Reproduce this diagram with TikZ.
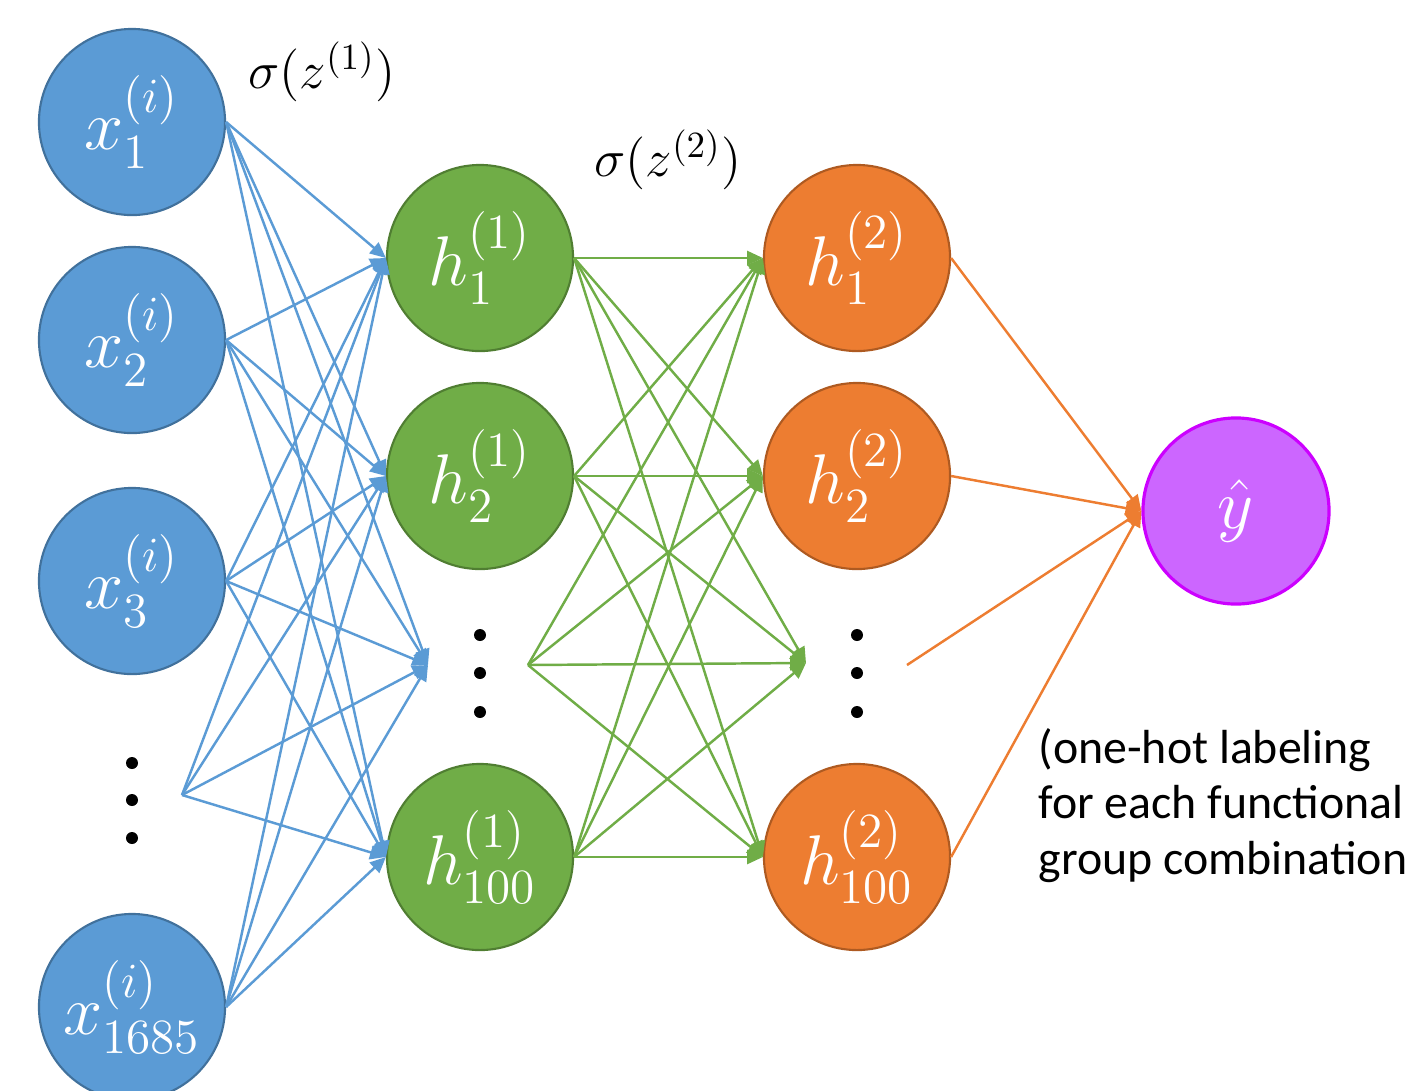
\RequirePackage{fix-cm}
\documentclass[tikz,border=0pt]{standalone}
\usepackage{amsmath}
\usepackage{fontspec}
\newfontfamily\calib{Carlito}
\usetikzlibrary{arrows.meta}

\definecolor{inblue}{HTML}{5B9BD5}
\definecolor{inblueedge}{HTML}{41719C}
\definecolor{hidgreen}{HTML}{70AD47}
\definecolor{hidgreenedge}{HTML}{507E32}
\definecolor{hidorange}{HTML}{ED7D31}
\definecolor{hidorangeedge}{HTML}{AE5A21}
\definecolor{outpurple}{HTML}{CC66FF}
\definecolor{outpurpleedge}{HTML}{CC00FF}

\begin{document}
\begin{tikzpicture}[x=0.01cm,y=-0.01cm,
  main/.style = {draw, circle, line width=0.6pt, minimum size=1.86cm, inner sep=0pt, text=white, font=\fontsize{20}{23}\selectfont},
  inp/.style = {main, fill=inblue, draw=inblueedge},
  hidone/.style = {main, fill=hidgreen, draw=hidgreenedge},
  hidtwo/.style = {main, fill=hidorange, draw=hidorangeedge},
  outp/.style = {main, fill=outpurple, draw=outpurpleedge, line width=0.9pt},
  link/.style = {line width=0.7pt, -{Triangle[length=4.5pt,width=4pt]}},
  dot/.style = {fill=black}]
  \useasboundingbox (0,0) rectangle (1405,1090);

  % input layer
  \node[inp] (x1) at (132,122) {$x_1^{(i)}$};
  \node[inp] (x2) at (132,340) {$x_2^{(i)}$};
  \node[inp] (x3) at (132,581) {$x_3^{(i)}$};
  \node[inp] (x4) at (132,1007) {$x_{1685}^{(i)}$};
  \coordinate (xd) at (182,795);

  % first hidden layer
  \node[hidone] (h1) at (480,258) {$h_1^{(1)}$};
  \node[hidone] (h2) at (480,476) {$h_2^{(1)}$};
  \node[hidone] (h3) at (480,857) {$h_{100}^{(1)}$};
  \coordinate (hdin) at (428,665);
  \coordinate (hdout) at (528,665);

  % second hidden layer
  \node[hidtwo] (g1) at (857,258) {$h_1^{(2)}$};
  \node[hidtwo] (g2) at (857,476) {$h_2^{(2)}$};
  \node[hidtwo] (g3) at (857,857) {$h_{100}^{(2)}$};
  \coordinate (gdin) at (806,663);
  \coordinate (gdout) at (907,665);

  \node[outp] (y) at (1236,511) {$\hat{y}$};

  % dots
  \foreach \px/\py in {132/763, 132/800, 132/838, 480/635, 480/673, 480/712, 857/635, 857/673, 857/712}
    \fill[dot] (\px,\py) circle (6);

  % links
  \foreach \s in {x1,x2,x3,xd,x4}
    \foreach \t in {h1,h2,hdin,h3}
      \draw[link, inblue] (\s.east) -- (\t.west);
  \foreach \s in {h1,h2,hdout,h3}
    \foreach \t in {g1,g2,gdin,g3}
      \draw[link, hidgreen] (\s.east) -- (\t.west);
  \foreach \s in {g1,g2,gdout,g3}
    \draw[link, hidorange] (\s.east) -- (y.west);

  % labels
  \node[font=\fontsize{15}{18}\selectfont] (s1) at (322,72) {$\sigma(z^{(1)})$};
  \node[font=\fontsize{15}{18}\selectfont] (s2) at (668,160) {$\sigma(z^{(2)})$};
  \node[anchor=north west, align=left, inner sep=0pt, font=\calib\fontsize{13.6}{15.7}\selectfont] (note) at (1038,728)
    {(one-hot labeling\\for each functional\\group combination};
\end{tikzpicture}
\end{document}
